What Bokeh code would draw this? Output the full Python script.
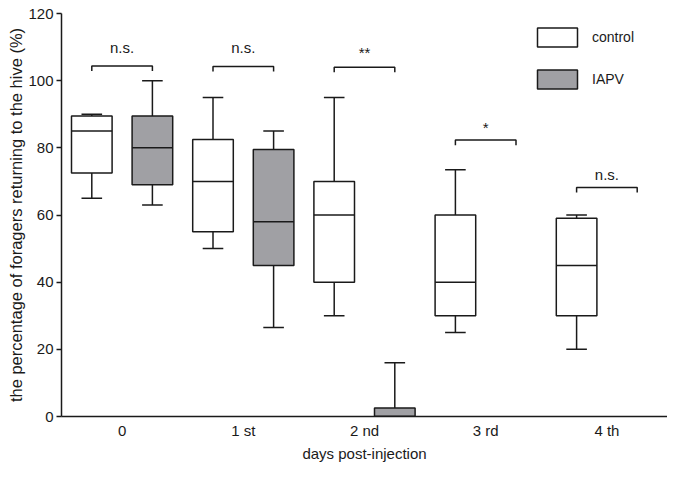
from bokeh.plotting import figure
from bokeh.models import FixedTicker, Legend, LegendItem, ColumnDataSource
from bokeh.core.properties import value
from bokeh.embed import file_html
from bokeh.resources import INLINE

# ---- data ----
days = [0, 1, 2, 3, 4]
day_labels = ["0", "1 st", "2 nd", "3 rd", "4 th"]

ctrl_min = [65, 50, 30, 25, 20]
ctrl_q1 = [72.5, 55, 40, 30, 30]
ctrl_med = [85, 70, 60, 40, 45]
ctrl_q3 = [89.5, 82.5, 70, 60, 59]
ctrl_max = [90, 95, 95, 73.5, 60]

iapv_days = [0, 1, 2]
iapv_min = [63, 26.5, 0]
iapv_q1 = [69, 45, 0]
iapv_med = [80, 58, 0]
iapv_q3 = [89.5, 79.5, 2.5]
iapv_max = [100, 85, 16]

sig_labels = ["n.s.", "n.s.", "**", "*", "n.s."]
sig_bracket_y = [104.4, 104.2, 104.0, 82.3, 68.2]
sig_text_y = [110.0, 110.0, 108.3, 86.0, 72.0]

FONT = "Liberation Sans"
OFF = 0.25
BW = 0.335
CAP = 0.085
LW = 1.5
GREY = "#a0a0a4"
INK = "#1a1a1a"

p = figure(width=667, height=464, x_range=(-0.5, 4.5), y_range=(0, 120),
           output_backend="svg", toolbar_location=None,
           min_border_left=61, min_border_right=0, min_border_top=13, min_border_bottom=48)
p.outline_line_color = None
p.xgrid.visible = False
p.ygrid.visible = False
p.background_fill_color = "white"


def draw_group(xs, mn, q1, md, q3, mx, fill):
    src = ColumnDataSource(dict(
        x=xs, x0=[x - CAP for x in xs], x1=[x + CAP for x in xs],
        xl=[x - BW / 2 for x in xs], xr=[x + BW / 2 for x in xs],
        mn=mn, q1=q1, md=md, q3=q3, mx=mx))
    # whiskers
    p.segment(x0="x", y0="q3", x1="x", y1="mx", source=src, line_color=INK, line_width=LW)
    p.segment(x0="x", y0="mn", x1="x", y1="q1", source=src, line_color=INK, line_width=LW)
    # caps
    p.segment(x0="x0", y0="mx", x1="x1", y1="mx", source=src, line_color=INK, line_width=LW)
    p.segment(x0="x0", y0="mn", x1="x1", y1="mn", source=src, line_color=INK, line_width=LW)
    # box
    r = p.vbar(x="x", width=BW, bottom="q1", top="q3", source=src,
               fill_color=fill, line_color=INK, line_width=LW)
    # median
    p.segment(x0="xl", y0="md", x1="xr", y1="md", source=src, line_color=INK, line_width=LW)
    return r


r_ctrl = draw_group([d - OFF for d in days], ctrl_min, ctrl_q1, ctrl_med, ctrl_q3, ctrl_max, "white")
r_iapv = draw_group([d + OFF for d in iapv_days], iapv_min, iapv_q1, iapv_med, iapv_q3, iapv_max, GREY)

# significance brackets
TICK = 1.5
xs_br, ys_br = [], []
for d, b in zip(days, sig_bracket_y):
    xs_br.append([d - OFF, d - OFF, d + OFF, d + OFF])
    ys_br.append([b - TICK, b, b, b - TICK])
p.multi_line(xs=xs_br, ys=ys_br, line_color=INK, line_width=LW)
p.text(x=days, y=sig_text_y, text=sig_labels, text_align="center",
       text_baseline="alphabetic", text_font=value(FONT), text_font_size="15px",
       text_color=INK)

# axes
p.xaxis.ticker = FixedTicker(ticks=days)
p.xaxis.major_label_overrides = {d: lab for d, lab in zip(days, day_labels)}
p.xaxis.major_tick_line_color = None
p.xaxis.minor_tick_line_color = None
p.xaxis.major_tick_in = 0
p.xaxis.major_tick_out = 0
p.xaxis.major_label_standoff = 5
p.xaxis.axis_label = "days post-injection"
p.xaxis.axis_label_standoff = 3
p.xaxis.axis_label_text_font_size = "15px"

p.yaxis.ticker = FixedTicker(ticks=[0, 20, 40, 60, 80, 100, 120])
p.yaxis.minor_tick_line_color = None
p.yaxis.major_tick_in = 0
p.yaxis.major_tick_out = 5
p.yaxis.major_tick_line_color = INK
p.yaxis.major_tick_line_width = LW
p.yaxis.major_label_standoff = 3
p.yaxis.axis_label = "the percentage of foragers returning to the hive (%)"
p.yaxis.axis_label_standoff = 0
p.yaxis.axis_label_text_font_size = "16.5px"

for ax in (p.xaxis, p.yaxis):
    ax.axis_line_color = INK
    ax.axis_line_width = LW
    ax.major_label_text_font = FONT
    ax.major_label_text_font_size = "15px"
    ax.major_label_text_color = INK
    ax.axis_label_text_font = FONT
    ax.axis_label_text_font_style = "normal"
    ax.axis_label_text_color = INK

legend = Legend(items=[LegendItem(label="control", renderers=[r_ctrl]),
                       LegendItem(label="IAPV", renderers=[r_iapv])],
                location=(471, 325), orientation="vertical",
                glyph_width=50, glyph_height=24, label_height=24, spacing=18,
                label_standoff=10, padding=0, margin=0,
                border_line_color=None, background_fill_alpha=0,
                label_text_font=FONT, label_text_font_size="14px", label_text_color=INK)
p.add_layout(legend, "center")

open("out.html", "w").write(file_html(p, INLINE))
